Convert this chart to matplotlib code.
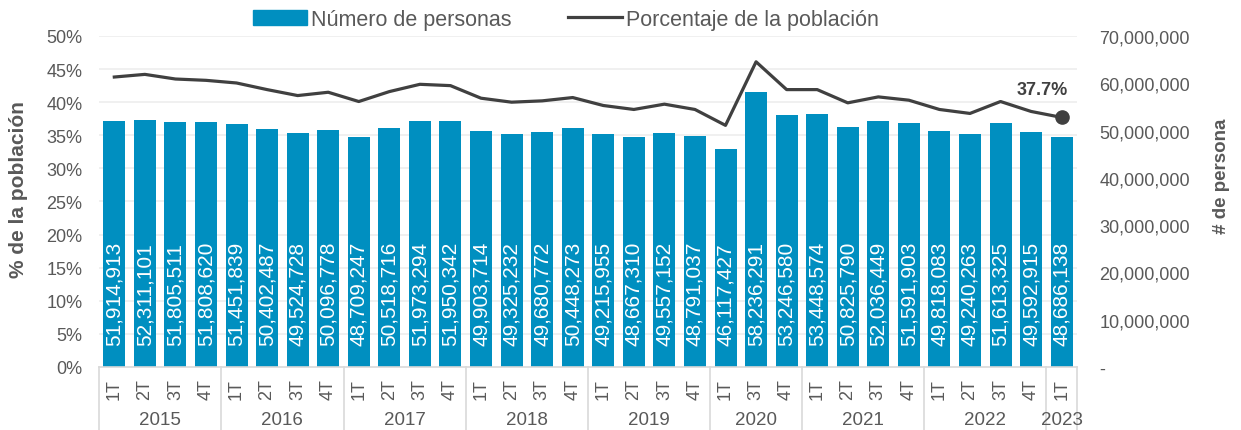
import matplotlib
matplotlib.use("Agg")
import matplotlib.pyplot as plt
from matplotlib.patches import Patch
from matplotlib.lines import Line2D
import matplotlib.transforms as mtrans

plt.rcParams['font.family'] = ['Liberation Sans', 'DejaVu Sans']

quarters = ["1T", "2T", "3T", "4T", "1T", "2T", "3T", "4T", "1T", "2T", "3T", "4T",
            "1T", "2T", "3T", "4T", "1T", "2T", "3T", "4T", "1T", "3T", "4T",
            "1T", "2T", "3T", "4T", "1T", "2T", "3T", "4T", "1T"]
years = ["2015", "2016", "2017", "2018", "2019", "2020", "2021", "2022", "2023"]
year_counts = [4, 4, 4, 4, 4, 3, 4, 4, 1]
personas = [51914913, 52311101, 51805511, 51808620, 51451839, 50402487, 49524728, 50096778,
            48709247, 50518716, 51973294, 51950342, 49903714, 49325232, 49680772, 50448273,
            49215955, 48667310, 49557152, 48791037, 46117427, 58236291, 53246580,
            53448574, 50825790, 52036449, 51591903, 49818083, 49240263, 51613325, 49592915,
            48686138]
porcentaje = [43.8, 44.2, 43.5, 43.3, 42.9, 41.9, 41.0, 41.5, 40.1, 41.6, 42.7, 42.5,
              40.6, 40.0, 40.2, 40.7, 39.5, 38.9, 39.7, 38.9, 36.5, 46.1, 41.9,
              41.9, 39.9, 40.8, 40.3, 38.9, 38.3, 40.1, 38.6, 37.7]
pct_ticks = [0, 5, 10, 15, 20, 25, 30, 35, 40, 45, 50]
persona_ticks = [0, 10000000, 20000000, 30000000, 40000000, 50000000, 60000000, 70000000]

BAR = '#008FC0'
LINE = '#404040'
TXT = '#595959'
SEP = '#D9D9D9'

fig = plt.figure(figsize=(12.41, 4.31), dpi=100)
ax = fig.add_axes([0.0798, 0.1462, 0.788, 0.768])   # bars (persons)
ax2 = ax.twinx()                                      # line (percent)

n = len(personas)
x = list(range(n))
pmax = persona_ticks[-1]
ax.set_ylim(0, pmax)
ax.set_xlim(-0.5, n - 0.5)
ax2.set_ylim(pct_ticks[0], pct_ticks[-1])

# gridlines behind bars
for t in pct_ticks[1:]:
    ax.axhline(t * pmax / pct_ticks[-1], color='#EDEDED', lw=1.2, zorder=0)

ax.bar(x, personas, width=0.72, color=BAR, zorder=2)
for xi, v in zip(x, personas):
    ax.annotate(f"{v:,}", (xi, 0), xytext=(0, 16), textcoords='offset points',
                rotation=90, ha='center', va='bottom', color='white', fontsize=15, zorder=3)

ax2.plot(x, porcentaje, color=LINE, lw=2.3, zorder=4)
ax2.plot([x[-1]], [porcentaje[-1]], 'o', color=LINE, ms=9.5, zorder=5)
ax2.annotate(f"{porcentaje[-1]:.1f}%", (x[-1], porcentaje[-1]), xytext=(-14, 20),
             textcoords='offset points', ha='center', va='center',
             fontsize=13, fontweight='bold', color=LINE)

# right axis (persons) on the right, left axis (percent) on the left
ax.yaxis.tick_right()
ax.yaxis.set_label_position('right')
ax2.yaxis.tick_left()
ax2.yaxis.set_label_position('left')

ax.set_yticks(persona_ticks)
ax.set_yticklabels(['-' if t == 0 else f"{t:,}" for t in persona_ticks])
ax2.set_yticks(pct_ticks)
ax2.set_yticklabels([f"{t}%" for t in pct_ticks])
ax.tick_params(axis='y', length=0, pad=16, labelsize=13, labelcolor=TXT)
ax2.tick_params(axis='y', length=0, pad=12, labelsize=13, labelcolor=TXT)
for a in (ax, ax2):
    for s in a.spines.values():
        s.set_visible(False)
ax.set_xticks([])
ax2.set_xticks([])

ax2.set_ylabel('% de la población', fontsize=15, fontweight='bold', color=TXT)
ax2.yaxis.set_label_coords(-0.0726, 0.54)
ax.set_ylabel('# de persona', fontsize=13.5, fontweight='bold', color=TXT, rotation=90)
ax.yaxis.set_label_coords(1.139, 0.58)

# category axis
tr = mtrans.blended_transform_factory(ax.transData, ax.transAxes)
ax.plot([-0.5, n - 0.5], [0, 0], transform=tr, color=SEP, lw=1.2, clip_on=False, zorder=6)
for xi, q in zip(x, quarters):
    ax.text(xi, -0.066, q, transform=tr, rotation=90, ha='center', va='center',
            fontsize=13, color=TXT)
start = 0
bounds = [-0.5]
for yr, c in zip(years, year_counts):
    mid = start + (c - 1) / 2
    ax.text(mid, -0.160, yr, transform=tr, ha='center', va='center', fontsize=13.5, color=TXT)
    start += c
    bounds.append(start - 0.5)
for b in bounds:
    ax.plot([b, b], [0, -0.19], transform=tr, color=SEP, lw=1.2, clip_on=False)

handles = [Patch(color=BAR), Line2D([0], [0], color=LINE, lw=2.3)]
fig.legend(handles, ['Número de personas', 'Porcentaje de la población'],
           loc='center', bbox_to_anchor=(0.456, 0.953), ncol=2, frameon=False,
           fontsize=15.5, labelcolor=TXT, handlelength=2.5, handleheight=0.7,
           handletextpad=0.2, columnspacing=2.6)

fig.savefig('out.png', dpi=100)
